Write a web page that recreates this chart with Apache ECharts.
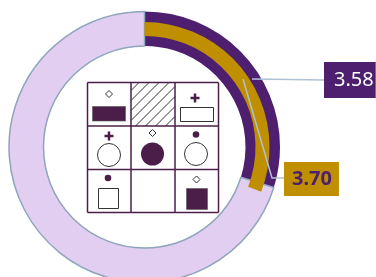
<!DOCTYPE html>
<html>
<head>
<meta charset="utf-8">
<style>
  html, body { margin: 0; padding: 0; background: #fff; }
  #main { width: 376px; height: 277px; }
</style>
<script src="https://cdn.jsdelivr.net/npm/echarts@6/dist/echarts.min.js"></script>
</head>
<body>
<div id="main"></div>
<script>
const seriesNames = ['Score A', 'Score B']
const scores = [3.58, 3.70]
const scaleMax = [12]

const purple = '#4D1F6E'
const gold = '#BF8F00'
const lilac = '#E2CEF0'
const rim = '#8FA5BC'
const guide = '#B0C1D3'
const ink = '#4A1E48'
const font = 'Noto Sans'

const center = [144.5, 147]

// where each value label sits and how its leader runs
const labelPlacement = [
  { x: 324, y: 80, points: [[252, 79], [290, 79.5], [324, 80]] },
  { x: 284, y: 179, points: [[243, 79], [272, 178], [284, 178]] }
]

// --- the 3x3 matrix in the middle ---
const gx = [87.5, 131, 175, 218.5]
const gy = [82.5, 126, 169.5, 212.5]

function diamond(cx, cy) {
  return { type: 'polygon', shape: { points: [[cx, cy - 3.5], [cx + 3.5, cy], [cx, cy + 3.5], [cx - 3.5, cy]] },
    style: { fill: '#fff', stroke: '#333', lineWidth: 1 } }
}
function plus(cx, cy) {
  return [
    { type: 'line', shape: { x1: cx - 4.5, y1: cy, x2: cx + 4.5, y2: cy }, style: { stroke: ink, lineWidth: 2.5 } },
    { type: 'line', shape: { x1: cx, y1: cy - 4.5, x2: cx, y2: cy + 4.5 }, style: { stroke: ink, lineWidth: 2.5 } }
  ]
}
function dot(cx, cy) {
  return { type: 'circle', shape: { cx: cx, cy: cy, r: 3.3 }, style: { fill: ink } }
}
function box(x, y, w, h, filled) {
  return { type: 'rect', shape: { x: x, y: y, width: w, height: h },
    style: filled ? { fill: ink, stroke: '#555', lineWidth: 0.6 } : { fill: '#fff', stroke: '#333', lineWidth: 1 } }
}
function ring(cx, cy, filled) {
  return { type: 'circle', shape: { cx: cx, cy: cy, r: 11.5 },
    style: filled ? { fill: ink } : { fill: '#fff', stroke: '#333', lineWidth: 1 } }
}
function hatch(x0, y0, x1, y1) {
  const out = []
  for (let c = x0 + y0 + 8; c < x1 + y1; c += 10) {
    const xa = Math.max(x0, c - y1)
    const xb = Math.min(x1, c - y0)
    out.push({ type: 'line', shape: { x1: xa, y1: c - xa, x2: xb, y2: c - xb }, style: { stroke: '#333', lineWidth: 1 } })
  }
  return out
}

function puzzle() {
  let els = []
  els.push(diamond(109, 94), box(92.5, 106.5, 33, 14.5, true))
  els = els.concat(hatch(gx[1], gy[0], gx[2], gy[1]))
  els = els.concat(plus(195, 98))
  els.push(box(180.5, 107.5, 33, 14, false))
  els = els.concat(plus(109, 136))
  els.push(ring(109, 155, false))
  els.push(diamond(152.5, 133), ring(152.5, 154, true))
  els.push(dot(196, 134.5), ring(196, 154, false))
  els.push(dot(108, 178), box(98.5, 188.5, 20, 20, false))
  els.push(diamond(196.5, 179.5), box(186.5, 188.5, 21, 21, true))
  for (let i = 0; i < 4; i++) {
    els.push({ type: 'line', shape: { x1: gx[i], y1: gy[0], x2: gx[i], y2: gy[3] }, style: { stroke: ink, lineWidth: 1.5 } })
    els.push({ type: 'line', shape: { x1: gx[0], y1: gy[i], x2: gx[3], y2: gy[i] }, style: { stroke: ink, lineWidth: 1.5 } })
  }
  return els
}

// leader lines sit on top of the rings, so draw them above the series
function leaders() {
  return labelPlacement.map(p => ({
    type: 'polyline',
    z: 50,
    shape: { points: p.points },
    style: { stroke: guide, lineWidth: 1.5, fill: null }
  }))
}

function layoutFor(i) {
  return function () {
    const p = labelPlacement[i]
    return { x: p.x, y: p.y, align: 'left', verticalAlign: 'middle' }
  }
}

const restItem = (v, style) => ({
  value: v,
  itemStyle: style,
  label: { show: false },
  labelLine: { show: false }
})

const chart = echarts.init(document.getElementById('main'))
chart.setOption({
  animation: false,
  graphic: puzzle().concat(leaders()),
  series: [
    {
      name: seriesNames[0],
      type: 'pie',
      center: center,
      radius: [101, 135.5],
      startAngle: 90,
      silent: true,
      avoidLabelOverlap: false,
      labelLayout: layoutFor(0),
      labelLine: { show: false },
      data: [
        {
          value: scores[0],
          itemStyle: { color: purple, borderWidth: 0 },
          label: {
            show: true,
            position: 'outside',
            formatter: p => p.value.toFixed(2),
            backgroundColor: purple,
            color: '#fff',
            fontFamily: font,
            fontSize: 20,
            lineHeight: 24,
            padding: [6, 2, 6, 10]
          }
        },
        restItem(scaleMax[0] - scores[0], { color: lilac, borderColor: rim, borderWidth: 1.5 })
      ]
    },
    {
      name: seriesNames[1],
      type: 'pie',
      center: center,
      radius: [111, 125],
      startAngle: 90,
      silent: true,
      avoidLabelOverlap: false,
      labelLayout: layoutFor(1),
      labelLine: { show: false },
      data: [
        {
          value: scores[1],
          itemStyle: { color: gold, borderWidth: 0 },
          label: {
            show: true,
            position: 'outside',
            formatter: p => p.value.toFixed(2),
            backgroundColor: gold,
            color: purple,
            fontFamily: font,
            fontWeight: 'bold',
            fontSize: 20,
            lineHeight: 24,
            padding: [5, 7, 5, 8]
          }
        },
        restItem(scaleMax[0] - scores[1], { color: 'rgba(0,0,0,0)', borderWidth: 0 })
      ]
    }
  ]
})
</script>
</body>
</html>
